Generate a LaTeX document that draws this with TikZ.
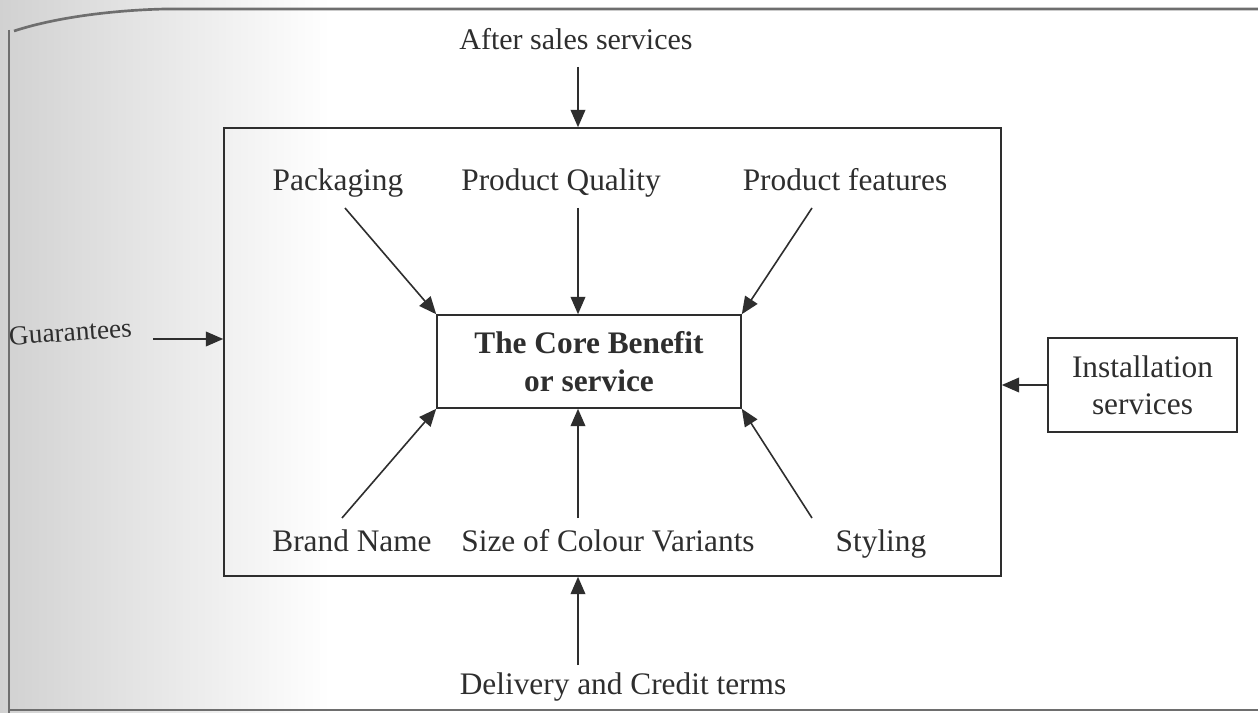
\documentclass[tikz,border=0pt]{standalone}
\usepackage{fontspec}
\setmainfont{Liberation Serif}
\usetikzlibrary{arrows.meta}
\definecolor{ink}{HTML}{2E2E2E}
\definecolor{rule}{HTML}{6E6E6E}
\begin{document}
\begin{tikzpicture}[x=0.75pt,y=-0.75pt,
  txt/.style={inner sep=0pt, anchor=base, text=ink, font=\fontsize{23.5}{28}\selectfont},
  boxed/.style={draw=ink, line width=1.2pt, inner sep=0pt, text=ink,
                font=\fontsize{23.5}{28}\selectfont, align=center},
  arr/.style={draw=ink, line width=1.2pt, -{Triangle[length=13pt,width=11pt]}}]
% page area
\useasboundingbox (0,0) rectangle (1258,713);
\fill[white] (0,0) rectangle (1258,713);
\begin{scope}
  \clip (0,0) rectangle (1258,713);
  \shade[left color=black!24, right color=white] (-110,0) rectangle (330,713);
\end{scope}
% page frame
\draw[rule, line width=2pt] (14,31) .. controls (60,16) and (120,10) .. (165,9) -- (1258,9);
\draw[rule, line width=2.2pt] (9,30) -- (9,127);
\draw[rule, line width=1.5pt] (9,127) -- (9,713);
\draw[rule, line width=1.5pt] (9,710) -- (1258,710);

% boxes
\node[boxed, minimum width=582.75pt, minimum height=336pt] (outer) at (612.5,352) {};
\node[boxed, minimum width=228pt, minimum height=69.75pt, font=\fontsize{23.5}{28}\selectfont\bfseries] (core) at (589,361.5) {The Core Benefit\\or service};
\node[boxed, minimum width=141.75pt, minimum height=70.5pt] (install) at (1142.5,385) {Installation\\services};

% labels
\node[txt, font=\fontsize{22.5}{27}\selectfont] (after) at (576,50) {After sales services};
\node[txt, font=\fontsize{20.5}{25}\selectfont, rotate=4] (guar) at (71,341) {Guarantees};
\node[txt] (deliv) at (623,694) {Delivery and Credit terms};
\node[txt] (pack) at (338,191) {Packaging};
\node[txt] (qual) at (561,191) {Product Quality};
\node[txt] (feat) at (845,191) {Product features};
\node[txt] (brand) at (352,551) {Brand Name};
\node[txt] (size) at (608,551) {Size of Colour Variants};
\node[txt] (styl) at (881,551) {Styling};

% connectors
\coordinate (afterend) at (578,67);
\coordinate (guarend) at (153,339);
\coordinate (delivend) at (578,665);
\draw[arr] (afterend) -- (afterend |- outer.north);
\draw[arr] (guarend) -- (guarend -| outer.west);
\draw[arr] (delivend) -- (delivend |- outer.south);
\draw[arr] (install.west) -- (install.west -| outer.east);

\coordinate (packend) at (345,208);
\coordinate (qualend) at (578,208);
\coordinate (featend) at (812,208);
\coordinate (brandend) at (342,518);
\coordinate (sizeend) at (578,518);
\coordinate (stylend) at (812,518);
\draw[arr] (packend) -- (core.north west);
\draw[arr] (qualend) -- (qualend |- core.north);
\draw[arr] (featend) -- (core.north east);
\draw[arr] (brandend) -- (core.south west);
\draw[arr] (sizeend) -- (sizeend |- core.south);
\draw[arr] (stylend) -- (core.south east);
\end{tikzpicture}
\end{document}
